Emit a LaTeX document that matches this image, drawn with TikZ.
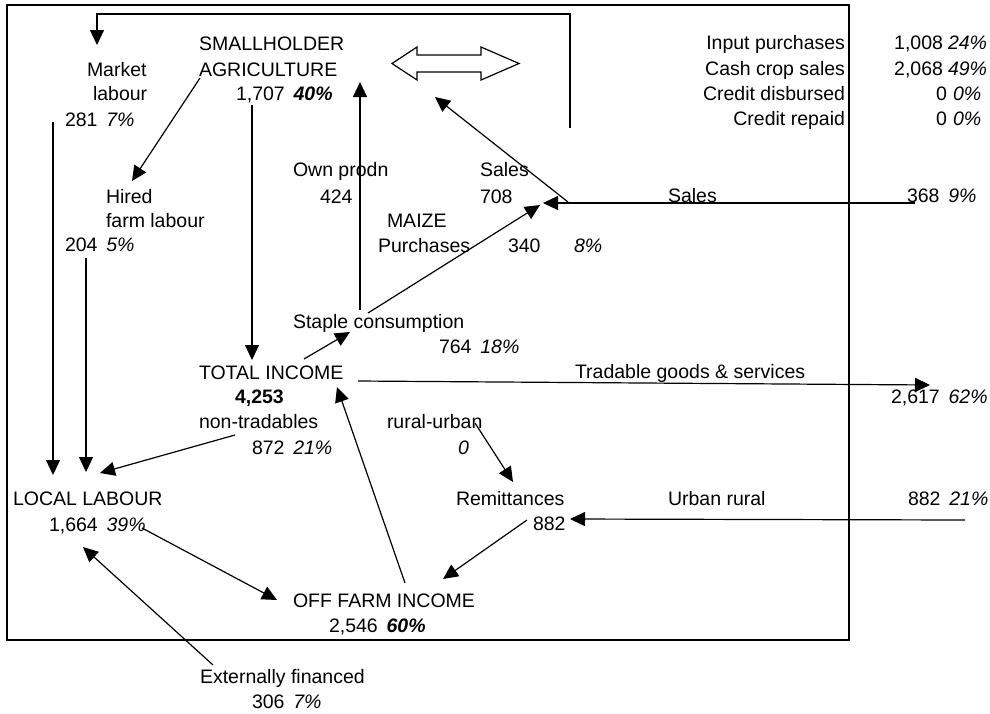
\documentclass[tikz,border=0pt]{standalone}
\usepackage{fontspec}
\setmainfont{Liberation Sans}
\usetikzlibrary{arrows.meta}
\newcommand\mypc[1]{\hspace{0.45em}\textit{#1}}
\newcommand\mybpc[1]{\hspace{0.45em}\textbf{\textit{#1}}}
\begin{document}
\begin{tikzpicture}[x=1pt,y=-1pt,
  every node/.style={inner sep=0pt, outer sep=0pt, font=\fontsize{19.5}{24}\selectfont},
  lbl/.style={anchor=base west},
  lblr/.style={anchor=base east},
  conn/.style={line width=1.2pt, -{Triangle[length=15pt,width=14pt]}},
  plainline/.style={line width=1.2pt},
  framebox/.style={line width=2.6pt}]
\useasboundingbox (0,0) rectangle (990,713);
\draw[framebox] (7,5) rectangle (849,640);

% labels
\node[lbl] (sh1) at (199,50) {SMALLHOLDER};
\node[lbl] (sh2) at (199,76) {AGRICULTURE};
\node[lbl] (sh3) at (236,100) {1,707\mybpc{40\%}};
\node[lbl] (ml1) at (87,76) {Market};
\node[lbl] (ml2) at (93,100) {labour};
\node[lbl] (ml3) at (65,126) {281\mypc{7\%}};
\node[lbl] (hf1) at (106,203) {Hired};
\node[lbl] (hf2) at (106,227) {farm labour};
\node[lbl] (hf3) at (65,251) {204\mypc{5\%}};
\node[lbl] (own1) at (293,176) {Own prodn};
\node[lbl] (own2) at (320,203) {424};
\node[lbl] (sal1) at (480,176) {Sales};
\node[lbl] (sal2) at (480,203) {708};
\node[lbl] (maize) at (387,227) {MAIZE};
\node[lbl] (pur) at (378,252) {Purchases};
\node[lbl] (pur2) at (508,252) {340};
\node[lbl] (pur3) at (574,252) {\textit{8\%}};
\node[lbl] (rsal) at (668,202) {Sales};
\node[lbl] (rsal2) at (907,202) {368\mypc{9\%}};
\node[lblr] (t1) at (845,49) {Input purchases};
\node[lblr] (t2) at (845,75) {Cash crop sales};
\node[lblr] (t3) at (845,100) {Credit disbursed};
\node[lblr] (t4) at (845,125) {Credit repaid};
\node[lblr] (v1) at (943,49) {1,008};
\node[lblr] (v2) at (943,75) {2,068};
\node[lblr] (v3) at (947,100) {0};
\node[lblr] (v4) at (947,125) {0};
\node[lbl] (p1) at (948,49) {\textit{24\%}};
\node[lbl] (p2) at (948,75) {\textit{49\%}};
\node[lbl] (p3) at (953,100) {\textit{0\%}};
\node[lbl] (p4) at (953,125) {\textit{0\%}};
\node[lbl] (st1) at (293,328) {Staple consumption};
\node[lbl] (st2) at (439,353) {764\mypc{18\%}};
\node[lbl] (ti1) at (199,379) {TOTAL INCOME};
\node[lbl] (ti2) at (235,403) {\textbf{4,253}};
\node[lbl] (nt1) at (199,428) {non-tradables};
\node[lbl] (nt2) at (252,454) {872\mypc{21\%}};
\node[lbl] (ru1) at (387,428) {rural-urban};
\node[lbl] (ru2) at (458,454) {\textit{0}};
\node[lbl] (tg1) at (575,378) {Tradable goods \& services};
\node[lbl] (tg2) at (891,403) {2,617\mypc{62\%}};
\node[lbl] (ll1) at (13,505) {LOCAL LABOUR};
\node[lbl] (ll2) at (49,531) {1,664\mypc{39\%}};
\node[lbl] (rm1) at (456,505) {Remittances};
\node[lbl] (rm2) at (533,530) {882};
\node[lbl] (ur1) at (668,505) {Urban rural};
\node[lbl] (ur2) at (908,505) {882\mypc{21\%}};
\node[lbl] (of1) at (293,607) {OFF FARM INCOME};
\node[lbl] (of2) at (329,632) {2,546\mybpc{60\%}};
\node[lbl] (ex1) at (200,683) {Externally financed};
\node[lbl] (ex2) at (252,708) {306\mypc{7\%}};

% double hollow arrow
\draw[plainline] (392,63.5) -- (417,47) -- (417,55) -- (481,55) -- (481,47) -- (519,63.5)
  -- (481,80) -- (481,72) -- (417,72) -- (417,80) -- cycle;

% connector end points
\coordinate (loopA) at (570,128);
\coordinate (loopB) at (570,14);
\coordinate (loopC) at (97,14);
\coordinate (mlTip) at (97,45);
\coordinate (agOut) at (200,78);
\coordinate (hfIn) at (132,181);
\coordinate (shOut) at (252,105);
\coordinate (tiIn) at (252,360);
\coordinate (stUp) at (360,310);
\coordinate (shIn) at (360,82);
\coordinate (salOut) at (568,202);
\coordinate (shIn2) at (435,97);
\coordinate (rsOut) at (915,203);
\coordinate (mzIn) at (543,203);
\coordinate (stOut) at (368,313);
\coordinate (mzIn2) at (540,205);
\coordinate (tiOut) at (304,359);
\coordinate (stIn) at (350,332);
\coordinate (tgOut) at (358,381);
\coordinate (tgIn) at (930,385);
\coordinate (ntOut) at (235,435);
\coordinate (llIn) at (100,473);
\coordinate (mlOut) at (53,122);
\coordinate (llIn2) at (53,475);
\coordinate (hfOut) at (86,258);
\coordinate (llIn3) at (86,472);
\coordinate (ofOut) at (405,583);
\coordinate (tiIn2) at (337,387);
\coordinate (ruOut) at (475,423);
\coordinate (rmIn) at (513,482);
\coordinate (urOut) at (965,520);
\coordinate (rmIn2) at (570,519);
\coordinate (rmOut) at (527,520);
\coordinate (ofIn) at (443,579);
\coordinate (llOut) at (142,528);
\coordinate (ofIn2) at (277,600);
\coordinate (exOut) at (213,665);
\coordinate (llIn4) at (83,547);

% connectors
\draw[conn] (loopA) -- (loopB) -- (loopC) -- (mlTip);
\draw[conn] (agOut) -- (hfIn);
\draw[conn] (shOut) -- (tiIn);
\draw[conn] (stUp) -- (shIn);
\draw[conn] (salOut) -- (shIn2);
\draw[conn] (rsOut) -- (mzIn);
\draw[conn] (stOut) -- (mzIn2);
\draw[conn] (tiOut) -- (stIn);
\draw[conn] (tgOut) -- (tgIn);
\draw[conn] (ntOut) -- (llIn);
\draw[conn] (mlOut) -- (llIn2);
\draw[conn] (hfOut) -- (llIn3);
\draw[conn] (ofOut) -- (tiIn2);
\draw[conn] (ruOut) -- (rmIn);
\draw[conn] (urOut) -- (rmIn2);
\draw[conn] (rmOut) -- (ofIn);
\draw[conn] (llOut) -- (ofIn2);
\draw[conn] (exOut) -- (llIn4);
\end{tikzpicture}
\end{document}
